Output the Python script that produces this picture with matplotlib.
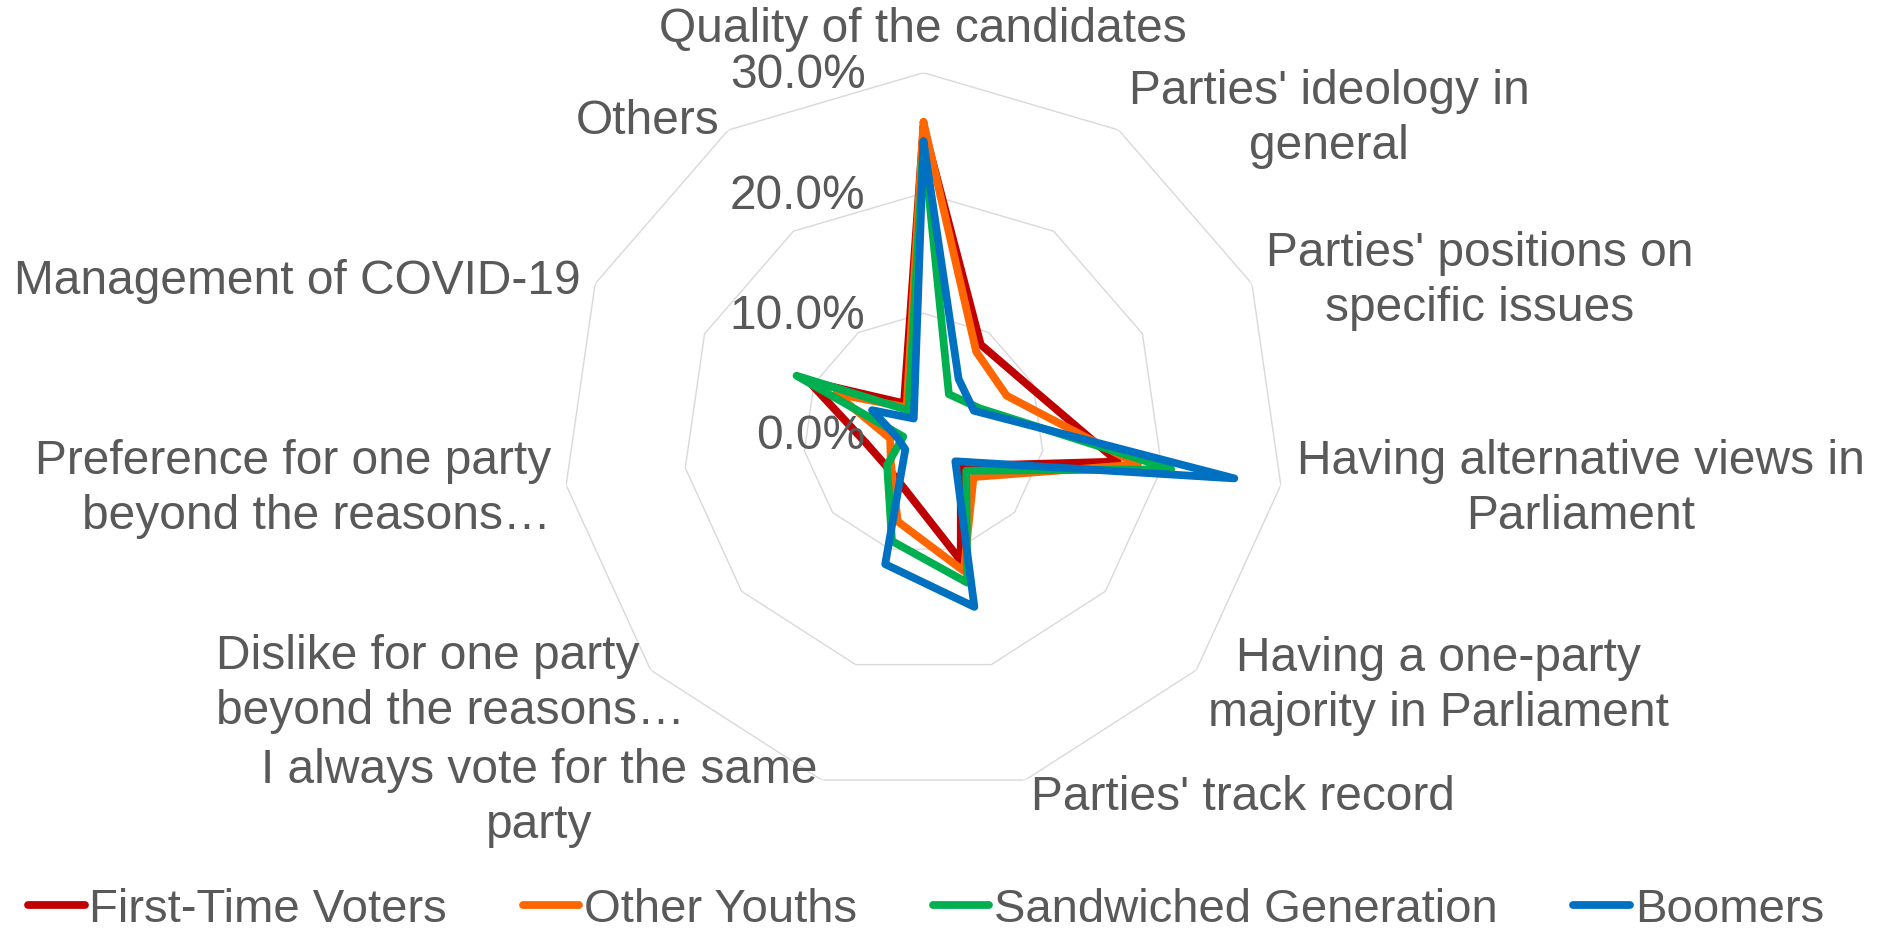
import numpy as np
import matplotlib
matplotlib.use("Agg")
import matplotlib.pyplot as plt
from matplotlib import transforms

plt.rcParams['font.family'] = ['Liberation Sans', 'DejaVu Sans']

# reasons for voting choice, share of respondents per generation
categories = [
    "Quality of the candidates",
    "Parties' ideology in\ngeneral",
    "Parties' positions on\nspecific issues",
    "Having alternative views in\nParliament",
    "Having a one-party\nmajority in Parliament",
    "Parties' track record",
    "I always vote for the same\nparty",
    "Dislike for one party\nbeyond the reasons\u2026",
    "Preference for one party\nbeyond the reasons\u2026",
    "Management of COVID-19",
    "Others",
]
first_time_voters = [25.5, 8.8, 9.6, 16.3, 4.1, 11.0, 5.0, 4.1, 4.9, 10.5, 3.0]
other_youths = [25.9, 8.1, 7.6, 18.0, 5.5, 11.9, 7.6, 3.6, 2.8, 8.0, 2.6]
sandwiched = [24.2, 3.9, 5.1, 20.8, 4.7, 12.9, 9.3, 4.0, 1.7, 11.6, 2.3]
boomers = [24.3, 5.4, 4.6, 26.1, 3.5, 15.0, 11.3, 2.0, 2.2, 4.7, 1.5]
series_names = ["First-Time Voters", "Other Youths", "Sandwiched Generation", "Boomers"]
ring_ticks = [0.0, 10.0, 20.0, 30.0]

colors = ['#C00000', '#FF6600', '#00B050', '#0070C0']
text_color = '#595959'
grid_color = '#D9D9D9'

W, H = 1878, 934
fig = plt.figure(figsize=(W / 100, H / 100), dpi=100)

# polar axes centred on the radar, 30% ring radius = 361 px
cx, cy, rad = 923.5, 433.7, 361
ax = fig.add_axes([(cx - rad) / W, 1 - (cy + rad) / H, 2 * rad / W, 2 * rad / H],
                  projection='polar')
ax.set_theta_zero_location('N')
ax.set_theta_direction(-1)
ax.set_ylim(0, 30)
ax.set_axis_off()

n = len(categories)
angles = np.arange(n) * 2 * np.pi / n
closed = np.append(angles, angles[0])

for v in ring_ticks[1:]:
    ax.plot(closed, [v] * (n + 1), color=grid_color, lw=1.0, zorder=1)

handles = []
for vals, col, name in zip([first_time_voters, other_youths, sandwiched, boomers],
                           colors, series_names):
    line, = ax.plot(closed, vals + vals[:1], color=col, lw=5.6, label=name,
                    solid_joinstyle='round', solid_capstyle='round', zorder=3)
    handles.append(line)

# value labels left of the vertical axis
off = transforms.offset_copy(ax.transData, fig=fig, x=-58, y=-3, units='dots')
for v in ring_ticks:
    ax.text(0, v, f"{v:.1f}%", transform=off, ha='right', va='center',
            fontsize=34.5, color=text_color, zorder=4)

# category label anchors (pixel centre / edge, alignment)
label_pos = [
    (923, 30, 'center'),
    (1329, 119, 'center'),
    (1480, 281, 'center'),
    (1581, 489, 'center'),
    (1438, 686, 'center'),
    (1243, 797, 'center'),
    (539, 798, 'center'),
    (216, 684, 'left'),
    (551, 489, 'right'),
    (581, 282, 'right'),
    (648, 121, 'center'),
]
for lab, (x, y, ha) in zip(categories, label_pos):
    fig.text(x / W, 1 - y / H, lab, ha=ha, va='center', multialignment=ha,
             fontsize=34.5, color=text_color, linespacing=1.28)

fig.legend(handles=handles, loc='center', bbox_to_anchor=(926 / W, 1 - 910 / H),
           ncol=4, frameon=False, fontsize=34, handlelength=1.2,
           handletextpad=0.1, columnspacing=1.6, labelcolor=text_color,
           borderpad=0.1)

fig.savefig('out.png', dpi=100, facecolor='white')
